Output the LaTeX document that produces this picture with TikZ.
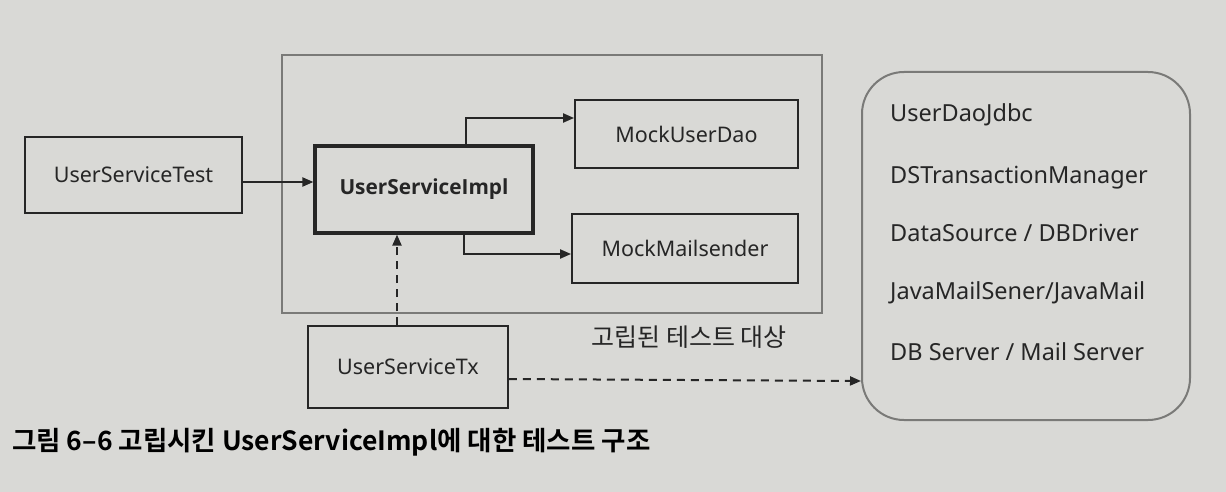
\documentclass[tikz,border=0pt]{standalone}
\usepackage{fontspec}
\setmainfont{Noto Sans}
\newfontfamily\bfam{Open Sans}
\newfontfamily\kr{Noto Sans CJK KR}
\newfontfamily\krb{Noto Sans CJK KR Bold}
\usetikzlibrary{arrows.meta}
\definecolor{paper}{HTML}{D9D9D6}
\definecolor{ink}{HTML}{262626}
\definecolor{frame}{HTML}{7A7A78}
\tikzset{
  box/.style={draw=ink, line width=1.8pt, inner sep=0pt, font=\fontsize{21.5}{24}\selectfont, text=ink},
  arr/.style={draw=ink, line width=2pt, -{Triangle[length=11pt,width=9pt]}},
  darr/.style={arr, dash pattern=on 8pt off 6pt},
  lst/.style={anchor=west, font=\fontsize{23.5}{26}\selectfont, text=ink, inner sep=0pt}
}
\begin{document}
\begin{tikzpicture}[x=1pt,y=-1pt]
\fill[paper] (0,0) rectangle (1226,492);
\useasboundingbox (0,0) rectangle (1226,492);
% frame
\node[draw=frame, line width=2.6pt, minimum width=540pt, minimum height=258pt, inner sep=0pt] (fr) at (552,184) {};
\node[box, minimum width=217pt, minimum height=76pt] (ust) at (133.5,175) {UserServiceTest};
\node[box, line width=3.2pt, minimum width=218pt, minimum height=87pt, font=\bfam\fontsize{20.8}{24}\selectfont\bfseries] (impl) at (424,189.5) {UserServiceImpl};
\node[box, minimum width=223pt, minimum height=68pt] (mud) at (686.5,134) {MockUserDao};
\node[box, minimum width=226pt, minimum height=69pt] (mms) at (685,248.5) {MockMailsender};
\node[box, minimum width=200pt, minimum height=82pt] (tx) at (408,367) {UserServiceTx};
\node[font=\kr\fontsize{25}{28}\selectfont, text=ink, inner sep=0pt] (lbl) at (689,337) {고립된 테스트 대상};
\node[draw=frame, line width=2pt, rounded corners=42pt, minimum width=328pt, minimum height=348pt, inner sep=0pt] (rb) at (1026,246) {};
\node[lst] (l1) at (890,115) {UserDaoJdbc};
\node[lst] (l2) at (890,178) {DSTransactionManager};
\node[lst] (l3) at (890,233) {DataSource / DBDriver};
\node[lst] (l4) at (890,293) {JavaMailSener/JavaMail};
\node[lst] (l5) at (890,352) {DB Server / Mail Server};
\node[anchor=west, inner sep=0pt, font=\krb\fontsize{26.5}{29}\selectfont, text=black] (cap) at (12,442) {그림 6–6 고립시킨 UserServiceImpl에 대한 테스트 구조};
% connectors
\draw[arr] (ust.east |- 0,182) -- (impl.west |- 0,182);
\draw[arr] (impl.north -| 466,0) |- (mud.west |- 0,118);
\draw[arr] (impl.south -| 464,0) |- (mms.west |- 0,254);
\draw[darr] (tx.north -| 397,0) -- (impl.south -| 397,0);
\draw[darr] (tx.east |- 0,379) -- (rb.west |- 0,381);
\end{tikzpicture}
\end{document}
